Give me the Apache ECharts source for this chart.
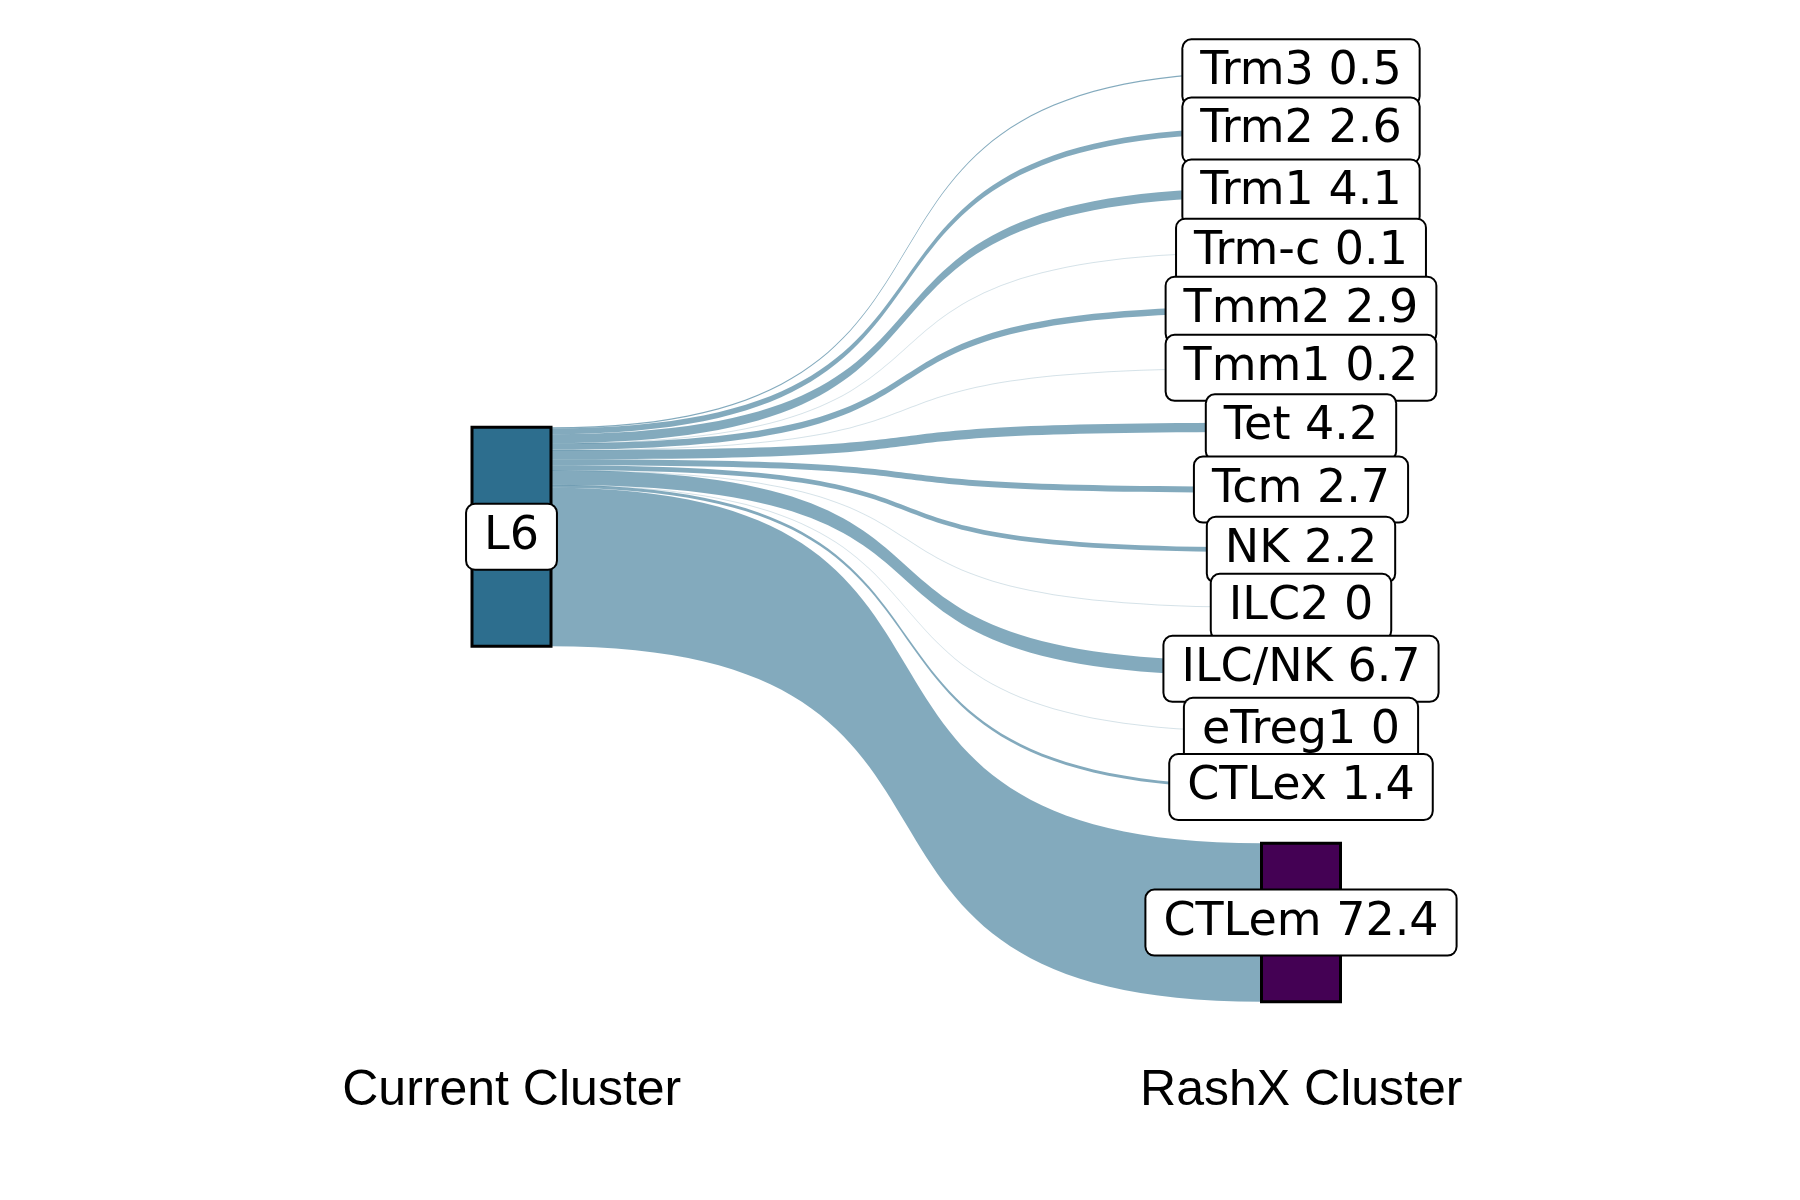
<!DOCTYPE html>
<html>
<head>
<meta charset="utf-8">
<script src="https://cdn.jsdelivr.net/npm/echarts@6/dist/echarts.min.js"></script>
<style>
  html, body { margin: 0; padding: 0; background: #ffffff; }
  #chart { width: 1800px; height: 1200px; }
</style>
</head>
<body>
<div id="chart"></div>
<script>
// ---- data ----
const axisTitles = ['Current Cluster', 'RashX Cluster'];
const sourceCluster = 'L6';
const sourceTotal = 100;
const targetClusters = ['Trm3', 'Trm2', 'Trm1', 'Trm-c', 'Tmm2', 'Tmm1', 'Tet', 'Tcm', 'NK', 'ILC2', 'ILC/NK', 'eTreg1', 'CTLex', 'CTLem'];
const targetPercents = [0.5, 2.6, 4.1, 0.1, 2.9, 0.2, 4.2, 2.7, 2.2, 0, 6.7, 0, 1.4, 72.4];
const targetColors = ['#FDE725', '#D2E21B', '#A0DA39', '#73D056', '#4AC16D', '#2DB27D', '#1FA187', '#21908D', '#277F8E', '#2E6E8E', '#365C8D', '#3F4788', '#46337E', '#440154'];
const sourceColor = '#2D6E8E';

// ---- layout settings ----
const seriesTop = 71.8;
const seriesHeight = 930;
const nodeGap = 54.7;
const gapsTotal = (targetClusters.length - 1) * nodeGap;
const sourceLocalY = gapsTotal / 2 / seriesHeight;

const valueByName = {};
valueByName[sourceCluster] = sourceTotal;
targetClusters.forEach((n, i) => { valueByName[n] = targetPercents[i]; });

const nodes = [{
  name: sourceCluster,
  localY: sourceLocalY,
  itemStyle: { color: sourceColor }
}].concat(targetClusters.map((n, i) => ({
  name: n,
  itemStyle: { color: targetColors[i] }
})));

const links = targetClusters.map((n, i) => ({
  source: sourceCluster,
  target: n,
  value: targetPercents[i],
  lineStyle: { opacity: targetPercents[i] < 0.3 ? 0.2 : 0.59 }
}));

const chart = echarts.init(document.getElementById('chart'), null, { renderer: 'canvas' });
chart.setOption({
  backgroundColor: '#ffffff',
  animation: false,
  grid: { left: 117, right: 104, top: 60, bottom: 150 },
  xAxis: {
    type: 'category',
    data: axisTitles,
    axisLine: { show: false },
    axisTick: { show: false },
    splitLine: { show: false },
    axisLabel: {
      margin: 16,
      fontSize: 50,
      color: '#000000',
      fontFamily: 'Liberation Sans'
    }
  },
  yAxis: { type: 'value', show: false },
  series: [{
    type: 'sankey',
    left: 472,
    top: seriesTop,
    width: 868.5,
    height: seriesHeight,
    nodeWidth: 79,
    nodeGap: nodeGap,
    layoutIterations: 0,
    draggable: false,
    emphasis: { disabled: true },
    data: nodes,
    links: links,
    itemStyle: { borderColor: '#000000', borderWidth: 3 },
    lineStyle: { color: sourceColor, opacity: 0.59, curveness: 0.7 },
    label: {
      show: true,
      position: 'inside',
      formatter: (p) => p.name === sourceCluster ? p.name : p.name + ' ' + valueByName[p.name],
      fontFamily: 'DejaVu Sans',
      fontSize: 46,
      lineHeight: 46,
      color: '#000000',
      backgroundColor: '#ffffff',
      borderColor: '#000000',
      borderWidth: 2,
      borderRadius: 8,
      padding: [9, 17]
    }
  }]
});
</script>
</body>
</html>
